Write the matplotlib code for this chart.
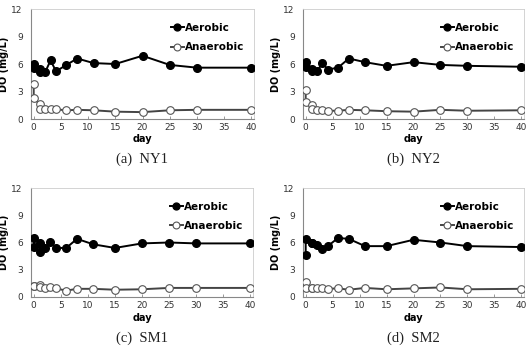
import matplotlib
matplotlib.use("Agg")
import matplotlib.pyplot as plt

# sampling days (two samples on day 0 and day 1)
days = [0, 0, 1.1, 1.1, 2.1, 3.1, 4.1, 6, 8, 11, 15, 20, 25, 30, 40]

ny1_aer = [6.0, 5.6, 5.5, 5.1, 5.1, 6.4, 5.2, 5.9, 6.6, 6.1, 6.0, 6.9, 5.9, 5.6, 5.6]
ny1_ana = [3.8, 2.3, 1.6, 1.1, 1.1, 1.1, 1.05, 0.95, 1.0, 0.95, 0.8, 0.75, 0.95, 1.0, 1.0]

ny2_aer = [6.2, 5.7, 5.5, 5.2, 5.2, 6.1, 5.4, 5.6, 6.6, 6.2, 5.8, 6.2, 5.9, 5.8, 5.7]
ny2_ana = [3.2, 1.9, 1.5, 1.1, 0.95, 0.95, 0.9, 0.9, 1.0, 0.95, 0.85, 0.8, 1.0, 0.9, 0.95]

sm1_aer = [6.5, 5.5, 6.0, 5.0, 5.4, 6.1, 5.4, 5.4, 6.4, 5.8, 5.4, 5.9, 6.0, 5.9, 5.9]
sm1_ana = [1.25, 1.2, 1.3, 1.1, 1.0, 1.1, 0.95, 0.7, 0.9, 0.9, 0.8, 0.85, 1.0, 1.0, 1.0]

sm2_aer = [4.6, 6.4, 6.0, 5.9, 5.7, 5.3, 5.6, 6.5, 6.4, 5.6, 5.6, 6.3, 6.0, 5.6, 5.5]
sm2_ana = [1.7, 1.0, 1.0, 1.0, 1.0, 1.0, 0.9, 0.95, 0.8, 1.0, 0.85, 0.95, 1.05, 0.85, 0.9]

panels = [
    ("(a)  NY1", ny1_aer, ny1_ana),
    ("(b)  NY2", ny2_aer, ny2_ana),
    ("(c)  SM1", sm1_aer, sm1_ana),
    ("(d)  SM2", sm2_aer, sm2_ana),
]

W, H = 528, 350
fig = plt.figure(figsize=(W / 100, H / 100), dpi=100)

# axes boxes in pixels: left, top, right, bottom
boxes = [(31, 9, 254, 119), (303, 9, 524, 119), (31, 188, 253, 297), (303, 188, 524, 297)]
cap_y = [159, 159, 338, 338]
day_y = [139, 139, 318, 318]

for (cap, aer, ana), (l, t, r, b), cy, dy in zip(panels, boxes, cap_y, day_y):
    ax = fig.add_axes([l / W, 1 - b / H, (r - l) / W, (b - t) / H])
    ax.plot(days, aer, "-o", color="black", lw=1.4, ms=5.5, mfc="black", mec="black",
            label="Aerobic", zorder=3)
    ax.plot(days, ana, "-o", color="#444444", lw=1.4, ms=5.5, mfc="white", mec="#555555",
            mew=0.8, label="Anaerobic", zorder=3)
    ax.set_xlim(-0.5, 40.5)
    ax.set_ylim(0, 12)
    ax.set_xticks(range(0, 41, 5))
    ax.set_yticks([0, 3, 6, 9, 12])
    ax.tick_params(axis="x", direction="in", length=2, width=0.6, color="#888888",
                   labelsize=6.5, labelcolor="#333333", pad=3)
    ax.tick_params(axis="y", length=0, labelsize=6.5, labelcolor="#333333", pad=6)
    for s in ["left", "bottom"]:
        ax.spines[s].set_color("#888888")
        ax.spines[s].set_linewidth(0.8)
    for s in ["top", "right"]:
        ax.spines[s].set_color("#cccccc")
        ax.spines[s].set_linewidth(0.6)
    ax.set_ylabel("DO (mg/L)", fontsize=7, fontweight="bold", labelpad=2)
    fig.text((l + r) / 2 / W, 1 - dy / H, "day", ha="center", va="center",
             fontsize=7, fontweight="bold")
    fig.text((l + r) / 2 / W, 1 - cy / H, cap, ha="center", va="center",
             fontsize=10.5, family="Liberation Serif", color="#222222")
    ax.legend(loc="upper right", bbox_to_anchor=(1.0, 0.96), frameon=False,
              prop={"size": 7.5, "weight": "bold"}, handlelength=1.3,
              handletextpad=0.1, labelspacing=0.9, markerscale=0.9)

fig.savefig("out.png", dpi=100)
